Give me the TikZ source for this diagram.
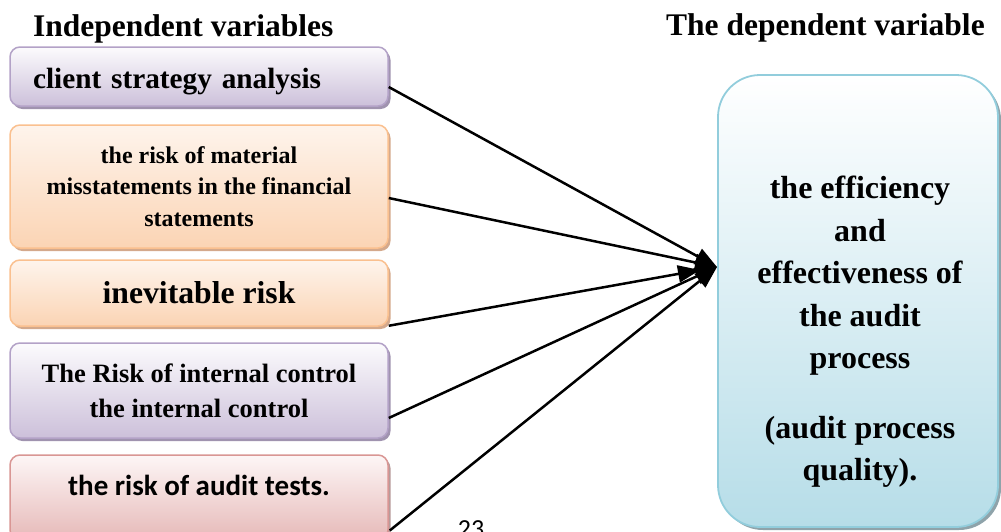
\documentclass[tikz,border=0pt]{standalone}
\usepackage{fontspec}
\setmainfont{Liberation Serif}
\newfontfamily\carlito{Carlito}
\usetikzlibrary{arrows.meta,calc}
\definecolor{pborder}{HTML}{B3A2C7}
\definecolor{ptop}{HTML}{FCFBFD}
\definecolor{pbot}{HTML}{CCC0DA}
\definecolor{pshadow}{HTML}{A093AF}
\definecolor{oborder}{HTML}{FAC08F}
\definecolor{otop}{HTML}{FEF4EC}
\definecolor{obot}{HTML}{FBD4B4}
\definecolor{oshadow}{HTML}{D4A98C}
\definecolor{rborder}{HTML}{D99694}
\definecolor{rtop}{HTML}{FDF6F6}
\definecolor{rbot}{HTML}{E6B9B8}
\definecolor{rshadow}{HTML}{B79A9A}
\definecolor{bborder}{HTML}{92CDDC}
\definecolor{btop}{HTML}{FFFFFF}
\definecolor{bbot}{HTML}{B6DDE8}
\definecolor{bshadow}{HTML}{8FA3AA}
\begin{document}
\begin{tikzpicture}[x=1pt,y=-1pt,
  varbox/.style={rounded corners=10pt, line width=1.5pt, minimum width=378pt,
    inner sep=0pt, align=center, font=\bfseries},
  purplebox/.style={varbox, draw=pborder, top color=ptop, bottom color=pbot,
    preaction={fill=pshadow, transform canvas={xshift=2.5pt,yshift=-3pt}}},
  orangebox/.style={varbox, draw=oborder, top color=otop, bottom color=obot,
    preaction={fill=oshadow, transform canvas={xshift=2.5pt,yshift=-3pt}}},
  pinkbox/.style={varbox, draw=rborder, top color=rtop, bottom color=rbot,
    preaction={fill=rshadow, transform canvas={xshift=2.5pt,yshift=-3pt}}},
  dvbox/.style={rounded corners=42pt, line width=1.8pt, draw=bborder,
    top color=btop, bottom color=bbot, inner sep=0pt,
    preaction={fill=bshadow, transform canvas={xshift=3pt,yshift=-3pt}}},
  title/.style={font=\fontsize{31.5}{38}\selectfont\bfseries, inner sep=0pt, anchor=base west},
  arr/.style={line width=2.5pt, -{Triangle[length=22pt,width=17pt]}}]
\useasboundingbox (0,0) rectangle (1001,531);

\node[title] (tl) at (33,36) {Independent variables};
\node[title] (tr) at (666,35) {The dependent variable};

\node[purplebox, minimum height=59pt, inner xsep=23pt, text width=332pt, align=left,
  text height=23pt, text depth=0pt,
  font=\fontsize{29.3}{34}\selectfont\bfseries] (b1) at (199,76.5) {client strategy analysis};
\node[orangebox, minimum height=123pt,
  font=\fontsize{24}{31.5}\selectfont\bfseries] (b2) at (199,186.5)
  {the risk of material\\misstatements in the financial\\statements};
\node[orangebox, minimum height=66pt, text height=25pt, text depth=5pt,
  font=\fontsize{31.7}{38}\selectfont\bfseries] (b3) at (199,293) {inevitable risk};
\node[purplebox, minimum height=95pt,
  font=\fontsize{26.5}{35}\selectfont\bfseries] (b4) at (199,390.5)
  {The Risk of internal control\\the internal control};
\node[pinkbox, minimum height=85pt, text height=20pt, text depth=25pt,
  font=\carlito\fontsize{29}{34}\selectfont\bfseries] (b5) at (199,497.5) {the risk of audit tests.};

\node[dvbox, minimum width=280pt, minimum height=452pt] (dv) at (858,301) {};
\node[anchor=north, inner sep=0pt, align=center,
  font=\fontsize{32}{42.5}\selectfont\bfseries] (dvt) at (860,176)
  {the efficiency\\and\\effectiveness of\\the audit\\process\\[27pt](audit process\\quality).};

\node[anchor=base, inner sep=0pt, font=\carlito\fontsize{26}{30}\selectfont] (pg) at (471,537) {23};

\coordinate (tip) at (717,267);
\coordinate (tipb) at (700,270);

\draw[arr] ($(b1.east)+(0,10.5)$) -- (tip);
\draw[arr] ($(b2.east)+(0,11.5)$) -- (tip);
\draw[arr] ($(b3.south east)+(0,-1)$) -- (tipb);
\draw[arr] ($(b4.east)+(0,27.5)$) -- (tip);
\draw[arr] ($(b5.east)+(1,33)$) -- (tip);
\end{tikzpicture}
\end{document}
